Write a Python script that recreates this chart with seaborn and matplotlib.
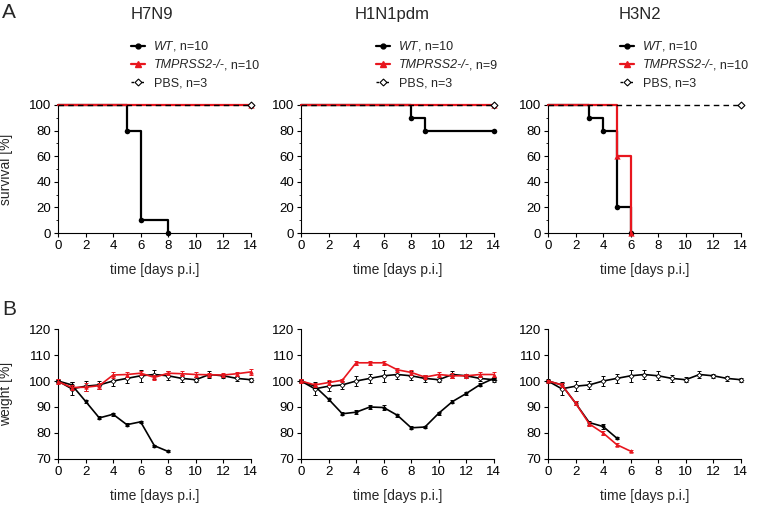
import matplotlib
matplotlib.use("Agg")
import matplotlib.pyplot as plt
import seaborn as sns
from matplotlib.lines import Line2D
from matplotlib.ticker import MultipleLocator

sns.set_theme(style="ticks")
plt.rcParams['font.family'] = ['Liberation Sans', 'DejaVu Sans']
plt.rcParams['axes.edgecolor'] = 'black'
plt.rcParams['xtick.color'] = 'black'
plt.rcParams['ytick.color'] = 'black'

RED = '#e8161e'

# ---- data ----
viruses = ["H7N9", "H1N1pdm", "H3N2"]
wt_n = [10, 10, 10]
tmp_n = [10, 9, 10]
pbs_n = [3, 3, 3]

# survival (Kaplan-Meier steps): event times and % surviving
surv_wt_t = [[0, 5, 6, 8], [0, 8, 9, 14], [0, 3, 4, 5, 6]]
surv_wt = [[100, 80, 10, 0], [100, 90, 80, 80], [100, 90, 80, 20, 0]]
surv_tmp_t = [[0, 14], [0, 14], [0, 5, 6]]
surv_tmp = [[100, 100], [100, 100], [100, 60, 0]]
surv_pbs_t = [0, 14]
surv_pbs = [100, 100]

# weight (% of initial), mean and SEM per day
days = list(range(15))
w_pbs = [100, 97, 98, 98.5, 100, 101, 102, 102.5, 102, 101, 100.5, 102.5, 102, 101, 100.5]
w_pbs_err = [0.8, 2.5, 2.0, 1.5, 1.8, 1.8, 2.2, 1.8, 1.8, 1.5, 1.0, 1.2, 0.8, 1.0, 0.8]

w_wt = [
    [100, 98.5, 92.2, 85.8, 87.2, 83.2, 84.3, 75.1, 72.9],
    [100, 98, 93, 87.4, 88, 90, 89.8, 86.8, 82, 82.3, 87.6, 92.1, 95.2, 98.6, 101],
    [100, 98.5, 91.5, 84, 82.5, 78],
]
w_wt_err = [
    [0.5, 1.0, 0.5, 0.6, 0.6, 0.6, 0.5, 0.4, 0.4],
    [0.5, 0.8, 0.6, 0.6, 0.8, 0.8, 0.8, 0.6, 0.6, 0.5, 0.6, 0.5, 0.6, 0.6, 0.6],
    [0.5, 0.8, 0.8, 0.8, 0.8, 0.5],
]
w_tmp = [
    [99.8, 97.5, 97.6, 98.2, 102.3, 102.5, 103, 101.4, 103, 102.8, 102.5, 102.4, 102.3, 102.8, 103.5],
    [100, 98.5, 99.4, 100.3, 107, 107, 107, 104.3, 103.3, 101.5, 102.5, 102, 102, 102.5, 102.5],
    [100, 98.5, 91.5, 83.5, 80, 75.5, 73],
]
w_tmp_err = [
    [0.8, 1.0, 1.5, 1.2, 1.0, 1.0, 0.8, 1.0, 0.8, 1.0, 0.8, 0.8, 0.6, 0.8, 1.2],
    [0.6, 0.8, 0.8, 0.6, 0.8, 0.8, 0.8, 0.8, 0.8, 0.8, 0.8, 1.0, 0.8, 1.0, 1.0],
    [0.5, 0.8, 0.8, 0.8, 0.6, 0.6, 0.4],
]

# ---- layout ----
fig = plt.figure(figsize=(7.59, 5.05), dpi=100)
lefts = [0.0764, 0.3966, 0.722]
title_x = [0.200, 0.517, 0.843]
legend_x = [0.1726, 0.4954, 0.8169]


def style_axis(ax):
    sns.despine(ax=ax)
    ax.set_xlim(0, 14)
    ax.xaxis.set_major_locator(MultipleLocator(2))
    ax.tick_params(axis='both', which='major', direction='out', length=3, width=0.8,
                   labelsize=9.5, pad=2)
    ax.tick_params(axis='y', which='minor', direction='out', length=1.8, width=0.6)
    for s in ax.spines.values():
        s.set_linewidth(0.8)
    ax.set_xlabel("time [days p.i.]", fontsize=10, labelpad=8)
    ax.grid(False)


for i, virus in enumerate(viruses):
    # ---- A: survival ----
    ax = fig.add_axes([lefts[i], 0.5386, 0.254, 0.2535])
    sns.lineplot(x=surv_wt_t[i], y=surv_wt[i], ax=ax, color='black', linewidth=1.6,
                 drawstyle='steps-post', clip_on=False, zorder=3)
    sns.scatterplot(x=surv_wt_t[i][1:], y=surv_wt[i][1:], ax=ax, color='black', s=16,
                    linewidth=0, clip_on=False, zorder=4)
    sns.lineplot(x=surv_tmp_t[i], y=surv_tmp[i], ax=ax, color=RED, linewidth=1.6,
                 drawstyle='steps-post', clip_on=False, zorder=5)
    sns.scatterplot(x=surv_tmp_t[i][1:], y=surv_tmp[i][1:], ax=ax, color=RED, s=20,
                    marker='^', linewidth=0, clip_on=False, zorder=6)
    sns.lineplot(x=surv_pbs_t, y=surv_pbs, ax=ax, color='black', linewidth=1.0,
                 linestyle=(0, (4, 3)), drawstyle='steps-post', clip_on=False, zorder=7)
    sns.scatterplot(x=surv_pbs_t[1:], y=surv_pbs[1:], ax=ax, marker='D', s=12,
                    facecolor='white', edgecolor='black', linewidth=0.8,
                    clip_on=False, zorder=8)
    ax.set_ylim(0, 100)
    ax.yaxis.set_major_locator(MultipleLocator(20))
    ax.yaxis.set_minor_locator(MultipleLocator(10))
    style_axis(ax)
    if i == 0:
        ax.set_ylabel("survival [%]", fontsize=10)
        ax.yaxis.set_label_coords(-0.232, 0.5)
    else:
        ax.set_ylabel("")

    # legend with italic genotype names
    handles = [
        Line2D([], [], color='black', lw=1.6, marker='o', markersize=3.5),
        Line2D([], [], color=RED, lw=1.6, marker='^', markersize=4),
        Line2D([], [], color='black', lw=1.0, linestyle=(0, (2, 1.5)), marker='D',
               markersize=3.5, markerfacecolor='white', markeredgewidth=0.8),
    ]
    leg = ax.legend(handles, ["WT", "TMPRSS2-/-", f"PBS, n={pbs_n[i]}"],
                    loc='upper left', bbox_to_anchor=(legend_x[i], 0.919),
                    bbox_transform=fig.transFigure, frameon=False, fontsize=9,
                    handlelength=1.1, handletextpad=0.7, borderpad=0,
                    borderaxespad=0, labelspacing=0.5)
    texts = leg.get_texts()
    texts[0].set_fontstyle('italic')
    texts[1].set_fontstyle('italic')
    for t, n in zip(texts[:2], [wt_n[i], tmp_n[i]]):
        ax.annotate(f", n={n}", xy=(1, 0), xycoords=t, ha='left', va='bottom',
                    fontsize=9, zorder=10, annotation_clip=False)

    fig.text(title_x[i], 0.972, virus, fontsize=12, ha='center', va='center')

    # ---- B: weight ----
    bx = fig.add_axes([lefts[i], 0.0911, 0.254, 0.2574])
    series = [
        (w_pbs, w_pbs_err, 'black', 'D', 'white', 2.5),
        (w_wt[i], w_wt_err[i], 'black', 'o', 'black', 2.2),
        (w_tmp[i], w_tmp_err[i], RED, '^', RED, 2.5),
    ]
    for z, (vals, err, col, mk, face, ms) in enumerate(series):
        x = days[:len(vals)]
        bx.errorbar(x, vals, yerr=err, fmt='none', ecolor=col, elinewidth=0.7,
                    capsize=1.5, capthick=0.7, clip_on=False, zorder=3 + 2 * z)
        sns.lineplot(x=x, y=vals, ax=bx, color=col, linewidth=1.2, marker=mk,
                     markersize=ms, markerfacecolor=face, markeredgecolor=col,
                     markeredgewidth=0.6, clip_on=False, zorder=4 + 2 * z)
    bx.set_ylim(70, 120)
    bx.yaxis.set_major_locator(MultipleLocator(10))
    style_axis(bx)
    if i == 0:
        bx.set_ylabel("weight [%]", fontsize=10)
        bx.yaxis.set_label_coords(-0.232, 0.5)
    else:
        bx.set_ylabel("")

fig.text(0.003, 0.975, "A", fontsize=15, ha='left', va='center')
fig.text(0.003, 0.388, "B", fontsize=15, ha='left', va='center')

fig.canvas.draw()
fig.savefig("out.png", dpi=100)
